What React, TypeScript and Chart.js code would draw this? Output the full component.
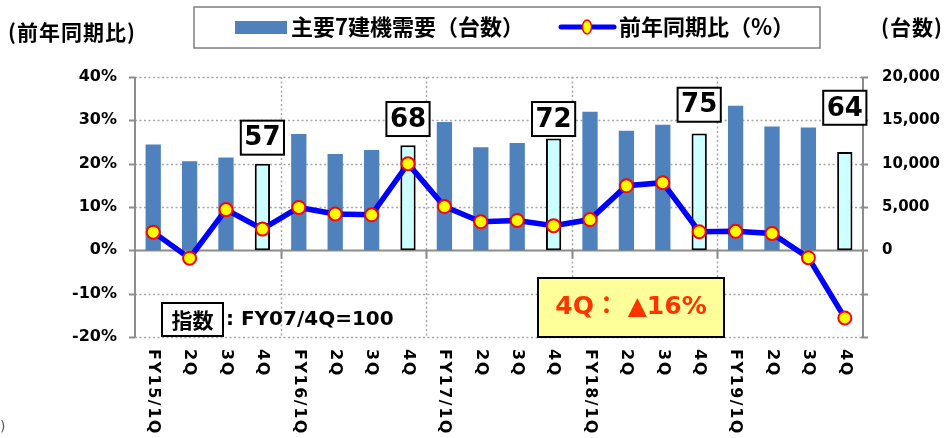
import React, { useEffect, useRef } from 'react';
import { Chart, registerables } from 'chart.js';

Chart.register(...registerables);

const categories = [
  'FY15/1Q', '2Q', '3Q', '4Q',
  'FY16/1Q', '2Q', '3Q', '4Q',
  'FY17/1Q', '2Q', '3Q', '4Q',
  'FY18/1Q', '2Q', '3Q', '4Q',
  'FY19/1Q', '2Q', '3Q', '4Q',
];

// 主要7建機需要（台数）
const units = [
  12200, 10270, 10700, 10000,
  13420, 11110, 11580, 12120,
  14800, 11880, 12380, 12900,
  15980, 13790, 14480, 13470,
  16670, 14280, 14170, 11360,
];

// 前年同期比（%）
const yoyPct = [
  4.2, -1.8, 9.4, 4.9,
  9.9, 8.4, 8.2, 20.0,
  10.1, 6.6, 6.9, 5.7,
  7.1, 14.9, 15.6, 4.3,
  4.4, 3.9, -1.7, -15.6,
];

// 指数 labels (FY07/4Q=100) on the 4Q bars
const indexPositions = [3, 7, 11, 15, 19];
const indexLabels = ['57', '68', '72', '75', '64'];
const indexLabelLevels = [13000, 15150, 15150, 16800, 16450];

const leftTickValues = [-20, -10, 0, 10, 20, 30, 40];
const rightTickValues = [-10000, -5000, 0, 5000, 10000, 15000, 20000];

const BAR_BLUE = '#4F81BD';
const HILITE = '#CCFFFF';
const AXIS_GRAY = '#8C8C8C';
const GRID_GRAY = '#A6A6A6';
const LATIN = '"DejaVu Sans", "Noto Sans CJK JP", sans-serif';
const CJK = '"Noto Sans CJK JP", "DejaVu Sans", sans-serif';

export default function App() {
  const ref = useRef<HTMLCanvasElement>(null);

  useEffect(() => {
    const canvas = ref.current;
    if (!canvas) return;
    const hl = new Set(indexPositions);

    const plugin = {
      id: 'customDecor',
      beforeDatasetsDraw(chart: any) {
        const { ctx, chartArea } = chart;
        const yL = chart.scales.yL;
        const yR = chart.scales.yR;
        const xs = chart.scales.x;
        const { left, right, top, bottom } = chartArea;
        ctx.save();
        ctx.strokeStyle = GRID_GRAY;
        ctx.lineWidth = 1.5;
        ctx.setLineDash([2, 2.5]);
        leftTickValues.forEach((v) => {
          if (v === 0) return;
          const y = Math.round(yL.getPixelForValue(v)) + 0.5;
          ctx.beginPath();
          ctx.moveTo(left, y);
          ctx.lineTo(right, y);
          ctx.stroke();
        });
        const boundaries = [3, 7, 11, 15];
        boundaries.forEach((i) => {
          const x = Math.round((xs.getPixelForValue(i) + xs.getPixelForValue(i + 1)) / 2) + 0.5;
          ctx.beginPath();
          ctx.moveTo(x, top);
          ctx.lineTo(x, bottom);
          ctx.stroke();
        });
        ctx.setLineDash([]);
        const y0 = Math.round(yL.getPixelForValue(0)) + 0.5;
        ctx.strokeStyle = AXIS_GRAY;
        ctx.lineWidth = 2;
        ctx.beginPath();
        ctx.moveTo(left, y0);
        ctx.lineTo(right, y0);
        ctx.stroke();
        boundaries.forEach((i) => {
          const x = Math.round((xs.getPixelForValue(i) + xs.getPixelForValue(i + 1)) / 2) + 0.5;
          ctx.beginPath();
          ctx.moveTo(x, y0);
          ctx.lineTo(x, y0 + 8);
          ctx.stroke();
        });
        ctx.beginPath();
        ctx.moveTo(left, top);
        ctx.lineTo(left, bottom);
        ctx.stroke();
        leftTickValues.forEach((v) => {
          const y = Math.round(yL.getPixelForValue(v)) + 0.5;
          ctx.beginPath();
          ctx.moveTo(left - 6, y);
          ctx.lineTo(left, y);
          ctx.stroke();
        });
        ctx.beginPath();
        ctx.moveTo(right, top);
        ctx.lineTo(right, bottom);
        ctx.stroke();
        rightTickValues.forEach((v) => {
          const y = Math.round(yR.getPixelForValue(v)) + 0.5;
          ctx.beginPath();
          ctx.moveTo(right - 2, y);
          ctx.lineTo(right + 5, y);
          ctx.stroke();
        });
        ctx.restore();
      },
      afterDatasetsDraw(chart: any) {
        const { ctx, chartArea } = chart;
        const xs = chart.scales.x;
        const yR = chart.scales.yR;
        ctx.save();
        ctx.font = `bold 26px ${LATIN}`;
        ctx.textAlign = 'center';
        ctx.textBaseline = 'middle';
        indexPositions.forEach((idx, k) => {
          const cx = xs.getPixelForValue(idx);
          const cy = yR.getPixelForValue(indexLabelLevels[k]);
          const w = ctx.measureText(indexLabels[k]).width + 7;
          const h = 34;
          ctx.fillStyle = '#FFFFFF';
          ctx.fillRect(cx - w / 2, cy - h / 2, w, h);
          ctx.strokeStyle = '#000';
          ctx.lineWidth = 2;
          ctx.strokeRect(cx - w / 2, cy - h / 2, w, h);
          ctx.fillStyle = '#000';
          ctx.fillText(indexLabels[k], cx, cy + 1);
        });

        const bx = chartArea.left + 27;
        const bb = chartArea.bottom - 1;
        ctx.fillStyle = '#FFFFFF';
        ctx.fillRect(bx, bb - 33, 61, 33);
        ctx.strokeStyle = '#000';
        ctx.lineWidth = 2;
        ctx.strokeRect(bx, bb - 33, 61, 33);
        ctx.fillStyle = '#000';
        ctx.font = `bold 21px ${CJK}`;
        ctx.textAlign = 'center';
        ctx.fillText('指数', bx + 30.5, bb - 16);
        ctx.font = `bold 20px ${LATIN}`;
        ctx.textAlign = 'left';
        ctx.fillText(': FY07/4Q=100', bx + 64, bb - 16);

        const qx = chartArea.left + 403;
        const qy = chartArea.bottom - 59;
        ctx.fillStyle = '#FFFF99';
        ctx.fillRect(qx, qy, 186, 59);
        ctx.strokeStyle = '#000';
        ctx.lineWidth = 2;
        ctx.strokeRect(qx, qy, 186, 59);
        ctx.fillStyle = '#FF3300';
        ctx.font = `bold 25px ${LATIN}`;
        ctx.textAlign = 'center';
        ctx.fillText('4Q： ▲16%', qx + 93, qy + 29);
        ctx.restore();
      },
      afterDraw(chart: any) {
        const { ctx } = chart;
        const xs = chart.scales.x;
        ctx.save();
        ctx.fillStyle = '#000';
        ctx.font = `bold 16px ${LATIN}`;
        (ctx as any).letterSpacing = '1.5px';
        ctx.textAlign = 'left';
        ctx.textBaseline = 'middle';
        categories.forEach((c, i) => {
          const x = xs.getPixelForValue(i);
          ctx.save();
          ctx.translate(x, 349);
          ctx.rotate(Math.PI / 2);
          ctx.fillText(c, 0, 0);
          ctx.restore();
        });
        (ctx as any).letterSpacing = '0px';

        // axis titles
        ctx.font = `bold 21px ${CJK}`;
        ctx.textBaseline = 'middle';
        ctx.textAlign = 'left';
        (ctx as any).letterSpacing = '1px';
        ctx.fillText('(前年同期比)', 8, 32);
        ctx.fillText('(台数)', 881, 27);
        (ctx as any).letterSpacing = '0px';

        // legend
        ctx.fillStyle = '#FFFFFF';
        ctx.fillRect(194, 7, 626, 41);
        ctx.strokeStyle = '#7F7F7F';
        ctx.lineWidth = 1.5;
        ctx.strokeRect(194, 7, 626, 41);
        ctx.fillStyle = BAR_BLUE;
        ctx.fillRect(235, 21, 52, 13);
        ctx.fillStyle = '#000';
        ctx.font = `bold 22px ${CJK}`;
        ctx.fillText('主要7建機需要（台数）', 291, 27);
        ctx.strokeStyle = '#0000FF';
        ctx.lineWidth = 5;
        ctx.lineCap = 'round';
        ctx.beginPath();
        ctx.moveTo(561, 27);
        ctx.lineTo(614, 27);
        ctx.stroke();
        ctx.beginPath();
        ctx.ellipse(587, 27, 4.5, 7, 0, 0, Math.PI * 2);
        ctx.fillStyle = '#FFFF00';
        ctx.fill();
        ctx.strokeStyle = '#FF0000';
        ctx.lineWidth = 1.5;
        ctx.stroke();
        ctx.fillStyle = '#000';
        ctx.fillText('前年同期比（%）', 619, 27);

        ctx.font = `14px ${LATIN}`;
        ctx.fillStyle = '#555';
        ctx.fillText(')', 0, 427);
        ctx.restore();
      },
    };

    const chart = new Chart(canvas, {
      type: 'bar',
      data: {
        labels: categories,
        datasets: [
          {
            type: 'line',
            label: '前年同期比（%）',
            data: yoyPct,
            yAxisID: 'yL',
            borderColor: '#0000FF',
            borderWidth: 5.5,
            pointRadius: 6.5,
            pointBackgroundColor: '#FFFF00',
            pointBorderColor: '#FF0000',
            pointBorderWidth: 2,
            tension: 0,
            order: 0,
          } as any,
          {
            type: 'bar',
            label: '主要7建機需要（台数）',
            data: units,
            yAxisID: 'yR',
            backgroundColor: units.map((_, i) => (hl.has(i) ? HILITE : BAR_BLUE)),
            borderColor: units.map((_, i) => (hl.has(i) ? '#000000' : BAR_BLUE)),
            borderWidth: units.map((_, i) => (hl.has(i) ? 2 : 0)),
            borderSkipped: false,
            barPercentage: 0.42,
            categoryPercentage: 1,
            order: 1,
          } as any,
        ],
      },
      options: {
        responsive: false,
        animation: false,
        layout: { padding: { top: 77, left: 0, right: 0, bottom: 0 } },
        plugins: { legend: { display: false }, tooltip: { enabled: false } },
        scales: {
          x: {
            grid: { display: false, drawTicks: false },
            border: { display: false },
            ticks: { display: false },
            afterFit: (s: any) => { s.height = 101; },
          },
          yL: {
            position: 'left',
            min: -20,
            max: 40,
            ticks: {
              stepSize: 10,
              callback: (v: any) => `${v}%`,
              font: { family: LATIN, weight: 'bold', size: 16 },
              color: '#000',
              padding: 18,
            },
            grid: { display: false, drawTicks: false },
            border: { display: false },
            afterFit: (s: any) => { s.width = 135; },
          },
          yR: {
            position: 'right',
            min: -10000,
            max: 20000,
            ticks: {
              stepSize: 5000,
              callback: (v: any) => (Number(v) >= 0 ? Number(v).toLocaleString('en-US') : ''),
              font: { family: LATIN, weight: 'bold', size: 15 },
              color: '#000',
              padding: 19,
            },
            grid: { display: false, drawTicks: false },
            border: { display: false },
            afterFit: (s: any) => { s.width = 81; },
          },
        },
      } as any,
      plugins: [plugin],
    });
    return () => chart.destroy();
  }, []);

  return (
    <div style={{ position: 'absolute', left: 0, top: 0, width: 944, height: 438, background: '#fff' }}>
      <canvas ref={ref} width={944} height={438} style={{ display: 'block' }} />
    </div>
  );
}
